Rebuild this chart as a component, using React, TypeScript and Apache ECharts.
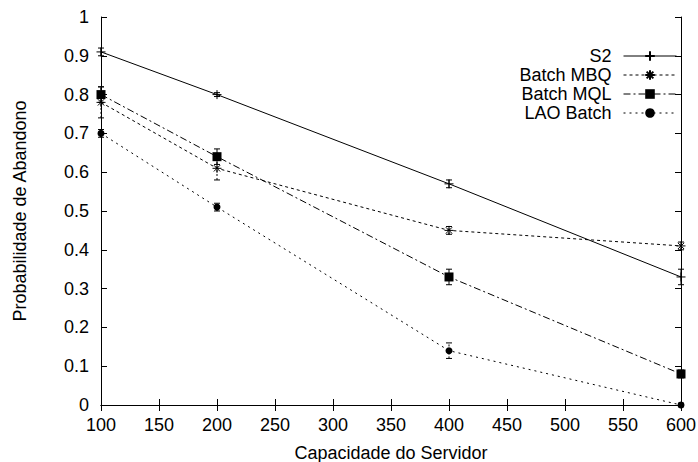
import React, { useEffect, useRef } from "react";
import * as echarts from "echarts";

const xs = [100, 200, 400, 600];
const s2 = [0.91, 0.8, 0.57, 0.33];
const s2Err = [0.01, 0.005, 0.01, 0.02];
const mbq = [0.78, 0.61, 0.45, 0.41];
const mbqErr = [0.04, 0.03, 0.01, 0.01];
const mql = [0.8, 0.64, 0.33, 0.08];
const mqlErr = [0.02, 0.02, 0.02, 0.01];
const lao = [0.7, 0.51, 0.14, 0.0];
const laoErr = [0.01, 0.01, 0.02, 0.005];
const seriesNames = ["S2", "Batch MBQ", "Batch MQL", "LAO Batch"];
const xTitle = "Capacidade do Servidor";
const yTitle = "Probabilidade de Abandono";

const FONT = "Liberation Sans, Arial, sans-serif";
const PLUS = "path://M0,5H10M5,0V10";
const STAR = "path://M0,5H10M5,0V10M1.5,1.5L8.5,8.5M8.5,1.5L1.5,8.5";

function pts(v: number[]) {
  return xs.map((x, i) => [x, v[i]]);
}
function errs(v: number[], e: number[]) {
  return xs.map((x, i) => [x, v[i] - e[i], v[i] + e[i]]);
}

function errSeries(data: number[][], dash: number[] | null) {
  return {
    type: "custom",
    data,
    silent: true,
    clip: false,
    z: 3,
    renderItem: (params: any, api: any) => {
      const x = api.value(0);
      const lo = api.coord([x, api.value(1)]);
      const hi = api.coord([x, api.value(2)]);
      const w = 3;
      const st: any = { stroke: "#000", lineWidth: 1, lineDash: dash || undefined };
      return {
        type: "group",
        children: [
          { type: "line", shape: { x1: lo[0], y1: lo[1], x2: hi[0], y2: hi[1] }, style: st },
          { type: "line", shape: { x1: lo[0] - w, y1: lo[1], x2: lo[0] + w, y2: lo[1] }, style: { stroke: "#000", lineWidth: 1 } },
          { type: "line", shape: { x1: hi[0] - w, y1: hi[1], x2: hi[0] + w, y2: hi[1] }, style: { stroke: "#000", lineWidth: 1 } },
        ],
      };
    },
  };
}

export default function App() {
  const ref = useRef<HTMLDivElement>(null);
  useEffect(() => {
    if (!ref.current) return;
    const chart = echarts.init(ref.current, undefined, { renderer: "svg" });
    const tickStyle = { show: true, inside: true, length: 6, lineStyle: { color: "#000", width: 1 } };
    const axisLine = { show: true, lineStyle: { color: "#000", width: 1 } };
    const lineBase = (name: string, data: number[][], symbol: string, size: number, type: any, stroked: boolean) => ({
      name,
      type: "line",
      data,
      symbol,
      symbolSize: size,
      showAllSymbol: true,
      clip: false,
      z: 4,
      lineStyle: { color: "#000", width: 1, type },
      itemStyle: { color: "#000", borderColor: "#000", borderWidth: stroked ? 1 : 0 },
      emphasis: { disabled: true },
    });
    chart.setOption({
      animation: false,
      backgroundColor: "#fff",
      textStyle: { fontFamily: FONT },
      grid: { left: 101, right: 17, top: 17, bottom: 57, outerBoundsMode: "none", containLabel: false },
      legend: {
        data: seriesNames,
        orient: "vertical",
        right: 21,
        top: 47,
        align: "right",
        itemWidth: 53,
        itemHeight: 12,
        itemGap: 1,
        padding: 0,
        selectedMode: false,
        lineStyle: { width: 1 },
        textStyle: { fontFamily: FONT, fontSize: 18, color: "#000", lineHeight: 12, padding: [0, 7, 0, 0] },
      },
      xAxis: [
        {
          type: "value",
          min: 100,
          max: 600,
          interval: 50,
          name: xTitle,
          nameLocation: "middle",
          nameGap: 39,
          nameTextStyle: { fontFamily: FONT, fontSize: 18, color: "#000" },
          axisLine,
          axisTick: tickStyle,
          axisLabel: { fontFamily: FONT, fontSize: 18, color: "#000", margin: 11 },
          splitLine: { show: false },
        },
        {
          type: "value",
          position: "top",
          min: 100,
          max: 600,
          interval: 50,
          axisLine,
          axisTick: tickStyle,
          axisLabel: { show: false },
          splitLine: { show: false },
        },
      ],
      yAxis: [
        {
          type: "value",
          min: 0,
          max: 1,
          interval: 0.1,
          name: yTitle,
          nameLocation: "middle",
          nameGap: 72,
          nameTextStyle: { fontFamily: FONT, fontSize: 18, color: "#000" },
          axisLine,
          axisTick: tickStyle,
          axisLabel: { fontFamily: FONT, fontSize: 18, color: "#000", margin: 12 },
          splitLine: { show: false },
        },
        {
          type: "value",
          position: "right",
          min: 0,
          max: 1,
          interval: 0.1,
          axisLine,
          axisTick: tickStyle,
          axisLabel: { show: false },
          splitLine: { show: false },
        },
      ],
      series: [
        lineBase(seriesNames[0], pts(s2), PLUS, 9, "solid", true),
        lineBase(seriesNames[1], pts(mbq), STAR, 9, [3, 3], true),
        lineBase(seriesNames[2], pts(mql), "rect", 9, [7, 3, 2, 3], false),
        lineBase(seriesNames[3], pts(lao), "circle", 7, [2, 4], false),
        errSeries(errs(s2, s2Err), null),
        errSeries(errs(mbq, mbqErr), [2, 2]),
        errSeries(errs(mql, mqlErr), null),
        errSeries(errs(lao, laoErr), [2, 2]),
      ],
    });
    return () => chart.dispose();
  }, []);
  return (
    <div
      ref={ref}
      style={{ position: "absolute", left: 0, top: 0, width: 698, height: 462, background: "#fff" }}
    />
  );
}
